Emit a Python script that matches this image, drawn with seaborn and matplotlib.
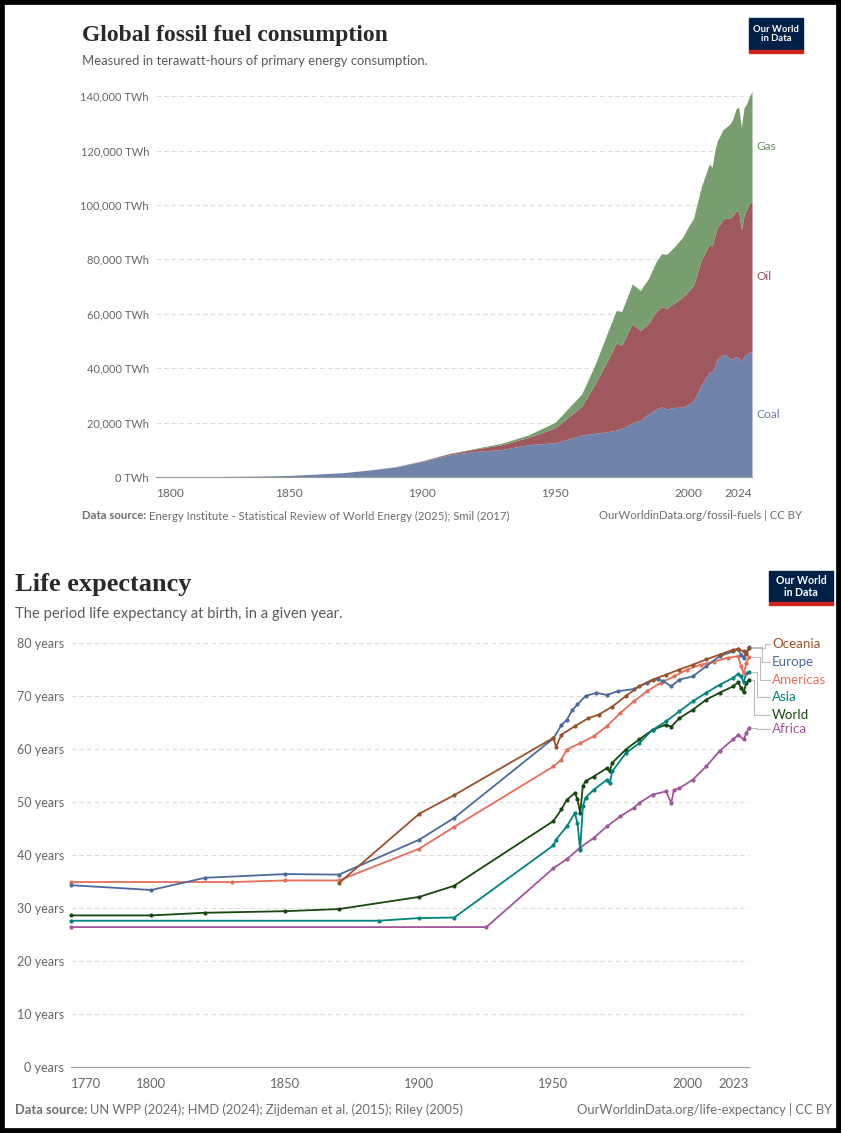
import numpy as np
import pandas as pd
import seaborn as sns
import matplotlib
matplotlib.use('Agg')
from matplotlib import pyplot as plt
from matplotlib.patches import Rectangle
from matplotlib.ticker import FuncFormatter

sns.set_theme(style="white")
plt.rcParams['font.family'] = ['Lato', 'DejaVu Sans']

# ---- fossil fuel consumption, TWh ----
fuel_years = [1800, 1810, 1820, 1830, 1840, 1850, 1860, 1870, 1880, 1890, 1900, 1910, 1920, 1930, 1940, 1950,
              1960, 1965, 1970, 1973, 1975, 1979, 1980, 1982, 1985, 1988,
              1990, 1992, 1995, 1998, 2000, 2002, 2005, 2008, 2009, 2010,
              2011, 2012, 2013, 2014, 2015, 2016, 2017, 2018, 2019, 2020, 2021, 2022, 2023, 2024]
coal = [97, 128, 153, 264, 356, 569, 1058, 1570, 2539, 3642, 5728, 8100, 9400, 10100, 11900, 12600,
        15400, 16100, 16700, 17300, 17800, 19800, 20300, 20800, 23100, 25000,
        25800, 25000, 25600, 25700, 26700, 28000, 34000, 38600, 38500, 40800,
        43500, 44000, 45000, 45100, 44200, 43300, 43600, 44200, 43900, 42300, 44600, 45100, 45800, 46000]
oil = [0, 0, 0, 0, 0, 0, 0, 0, 30, 90, 180, 380, 900, 1800, 2700, 5400,
       10600, 18100, 26700, 32000, 30600, 36600, 35300, 33000, 33300, 35800,
       36800, 37000, 38500, 40500, 41500, 42400, 46000, 47000, 46400, 47800,
       48300, 48900, 49600, 50000, 51000, 52000, 52800, 53500, 53800, 48600, 51500, 53400, 54800, 55300]
gas = [0, 0, 0, 0, 0, 0, 0, 0, 0, 60, 60, 140, 230, 550, 880, 2100,
       4500, 7100, 10500, 12000, 12400, 14500, 14600, 14800, 16400, 18400,
       19500, 19900, 20700, 22000, 23700, 24600, 26800, 29600, 28900, 31200,
       31900, 32600, 33000, 33300, 34000, 34800, 35800, 37600, 38300, 37700, 39600, 38800, 39200, 40500]
fuel_names = ["Coal", "Oil", "Gas"]
fuel_colors = ["#7084ab", "#a0585f", "#789d6e"]
fuel_text_colors = ["#6a7eaa", "#9a4a55", "#6c9061"]

# ---- life expectancy, years ----
oceania_years = [1870, 1900, 1913, 1950, 1951, 1953, 1958, 1963, 1967, 1972, 1977, 1982, 1987, 1992, 1997,
                 2002, 2007, 2012, 2017, 2019, 2021, 2022, 2023]
oceania = [34.7, 47.8, 51.3, 62.1, 60.4, 62.7, 64.3, 65.8, 66.5, 68.0, 70.0, 71.8, 73.1, 74.0, 75.0,
           75.9, 76.9, 77.8, 78.7, 78.9, 78.4, 77.9, 79.0]
europe_years = [1770, 1800, 1820, 1850, 1870, 1900, 1913, 1950, 1953, 1955, 1957, 1959, 1962, 1966, 1970,
                1974, 1980, 1985, 1989, 1991, 1994, 1997, 2002, 2007, 2012, 2017, 2019, 2020, 2021, 2022, 2023]
europe = [34.3, 33.4, 35.7, 36.4, 36.3, 42.9, 47.0, 62.0, 64.5, 65.5, 67.3, 68.4, 70.0, 70.6, 70.2,
          70.9, 71.3, 72.5, 73.2, 72.8, 71.8, 73.1, 73.7, 75.6, 77.5, 78.4, 78.9, 77.8, 77.2, 78.2, 79.2]
americas_years = [1770, 1830, 1850, 1870, 1900, 1913, 1950, 1953, 1955, 1960, 1965, 1970, 1975, 1980, 1985,
                  1990, 1995, 2000, 2005, 2010, 2015, 2019, 2020, 2021, 2022, 2023]
americas = [34.9, 34.9, 35.2, 35.2, 41.2, 45.3, 56.7, 58.0, 59.9, 61.1, 62.4, 64.3, 66.8, 69.0, 70.9,
            72.5, 73.7, 75.0, 75.9, 76.5, 77.2, 77.5, 75.6, 74.3, 76.2, 77.4]
asia_years = [1770, 1885, 1900, 1913, 1950, 1951, 1955, 1958, 1959, 1960, 1961, 1962, 1965, 1970, 1971,
              1972, 1977, 1982, 1987, 1992, 1997, 2002, 2007, 2012, 2017, 2019, 2020, 2021, 2022, 2023]
asia = [27.6, 27.6, 28.1, 28.2, 41.8, 42.9, 45.4, 47.9, 46.0, 41.0, 49.2, 50.8, 52.3, 54.2, 53.5,
        55.8, 59.2, 61.1, 63.6, 65.2, 67.1, 69.0, 70.6, 72.1, 73.4, 74.2, 73.7, 72.6, 74.3, 74.5]
world_years = [1770, 1800, 1820, 1850, 1870, 1900, 1913, 1950, 1953, 1955, 1958, 1959, 1960, 1961, 1962,
               1965, 1970, 1971, 1972, 1977, 1982, 1987, 1992, 1994, 1997, 2002, 2007, 2012, 2017, 2019,
               2020, 2021, 2022, 2023]
world = [28.6, 28.6, 29.1, 29.4, 29.8, 32.1, 34.2, 46.4, 48.6, 50.4, 51.7, 50.5, 47.9, 53.0, 53.9,
         54.8, 56.4, 55.8, 57.4, 59.9, 61.8, 63.6, 64.6, 64.2, 65.8, 67.4, 69.3, 70.6, 71.8, 72.6,
         71.5, 70.7, 72.5, 73.1]
africa_years = [1770, 1925, 1950, 1955, 1960, 1965, 1970, 1975, 1980, 1982, 1987, 1992, 1994, 1995, 1997,
                2002, 2007, 2012, 2017, 2019, 2021, 2022, 2023]
africa = [26.4, 26.4, 37.5, 39.2, 41.4, 43.2, 45.4, 47.3, 48.9, 49.8, 51.4, 52.0, 49.8, 52.3, 52.6,
          54.2, 56.7, 59.6, 61.8, 62.7, 61.8, 63.0, 64.0]

regions = ["Africa", "World", "Asia", "Americas", "Europe", "Oceania"]
region_colors = {"Oceania": "#9a5129", "Europe": "#4c6a9c", "Americas": "#e56e5a",
                 "Asia": "#00847e", "World": "#18470f", "Africa": "#a2559c"}

life = pd.concat([
    pd.DataFrame({"region": "Oceania", "year": oceania_years, "life_exp": oceania}),
    pd.DataFrame({"region": "Europe", "year": europe_years, "life_exp": europe}),
    pd.DataFrame({"region": "Americas", "year": americas_years, "life_exp": americas}),
    pd.DataFrame({"region": "Asia", "year": asia_years, "life_exp": asia}),
    pd.DataFrame({"region": "World", "year": world_years, "life_exp": world}),
    pd.DataFrame({"region": "Africa", "year": africa_years, "life_exp": africa}),
], ignore_index=True)

W, H = 841, 1133
fig = plt.figure(figsize=(W / 100, H / 100), dpi=100)
fig.patch.set_facecolor("white")


def fx(px):
    return px / W


def fy(py):
    return 1 - py / H


grey_txt = "#5b5b5b"
tick_col = "#666666"
grid_col = "#dcdcdc"


def owid_logo(x0, y0, x1, y1, size):
    fig.patches.append(Rectangle((fx(x0), fy(y1)), fx(x1) - fx(x0), (y1 - y0) / H,
                                 transform=fig.transFigure, color="#002147", zorder=5))
    fig.patches.append(Rectangle((fx(x0), fy(y1 + 3)), fx(x1) - fx(x0), 3 / H,
                                 transform=fig.transFigure, color="#ce261e", zorder=5))
    fig.text(fx((x0 + x1) / 2), fy((y0 + y1) / 2), "Our World\nin Data", color="white",
             fontsize=size, ha="center", va="center", fontweight="bold", linespacing=1.0, zorder=6)


def source_line(x, y, src, url, url_right, size):
    r = fig.canvas.get_renderer()
    t = fig.text(fx(x), fy(y), "Data source:", fontsize=size, fontweight="bold", color="#6e6e6e", va="center")
    bb = t.get_window_extent(renderer=r)
    fig.text(bb.x1 / W + 3 / W, fy(y), src, fontsize=size, color="#6e6e6e", va="center")
    fig.text(fx(url_right), fy(y), url, fontsize=size, color="#6e6e6e", va="center", ha="right")


def edge_labels(ax):
    labs = ax.get_xticklabels()
    labs[0].set_ha("left")
    labs[-1].set_ha("right")


# ================= top: fossil fuels =================
ax1 = fig.add_axes([fx(156), fy(477), fx(752) - fx(156), (477 - 89.4) / H])
ax1.stackplot(fuel_years, coal, oil, gas, colors=fuel_colors, linewidth=0, zorder=2)
ax1.set_xlim(1800, 2024)
ax1.set_ylim(0, 142500)
ax1.set_yticks(np.arange(0, 140001, 20000))
ax1.yaxis.set_major_formatter(FuncFormatter(lambda v, p: f"{int(v):,} TWh"))
ax1.set_xticks([1800, 1850, 1900, 1950, 2000, 2024])
ax1.grid(axis="y", color=grid_col, linestyle=(0, (4, 3)), linewidth=0.8, zorder=0)
ax1.grid(axis="x", visible=False)
for s in ["top", "right", "left"]:
    ax1.spines[s].set_visible(False)
ax1.spines["bottom"].set_color("#999999")
ax1.spines["bottom"].set_linewidth(0.8)
ax1.tick_params(axis="y", length=0, pad=5, labelsize=8.0, labelcolor=tick_col)
ax1.tick_params(axis="x", length=4, width=0.8, color="#999999", pad=4, labelsize=8.6, labelcolor=tick_col)
ax1.set_xlabel("")
ax1.set_ylabel("")
edge_labels(ax1)

bottom = 0
for name, vals, col in zip(fuel_names, [coal, oil, gas], fuel_text_colors):
    mid = bottom + vals[-1] / 2
    ax1.text(2025.8, mid, name, color=col, fontsize=8.6, va="center", ha="left", clip_on=False)
    bottom += vals[-1]

fig.text(fx(82), fy(36), "Global fossil fuel consumption", fontsize=17, family=["Liberation Serif", "DejaVu Serif"],
         color="#2a2a2a", va="center", fontweight="bold")
fig.text(fx(82), fy(61), "Measured in terawatt-hours of primary energy consumption.", fontsize=9.4,
         color=grey_txt, va="center")
owid_logo(749, 18, 803, 50, 6.8)
source_line(82, 516, "Energy Institute - Statistical Review of World Energy (2025); Smil (2017)",
            "OurWorldinData.org/fossil-fuels | CC BY", 802, 8.2)

# ================= bottom: life expectancy =================
ax2 = fig.add_axes([fx(71), fy(1067), fx(749) - fx(71), (1067 - 643) / H])
sns.lineplot(data=life, x="year", y="life_exp", hue="region", hue_order=regions, palette=region_colors,
             marker="o", markersize=3, markeredgewidth=0, linewidth=1.3, legend=False, sort=False,
             estimator=None, ax=ax2)
for ln in ax2.lines:
    ln.set_clip_on(False)
ax2.set_xlim(1770, 2023)
ax2.set_ylim(0, 80)
ax2.set_yticks(np.arange(0, 81, 10))
ax2.yaxis.set_major_formatter(FuncFormatter(lambda v, p: f"{int(v)} years"))
ax2.set_xticks([1770, 1800, 1850, 1900, 1950, 2000, 2023])
ax2.grid(axis="y", color=grid_col, linestyle=(0, (4, 3)), linewidth=0.8, zorder=0)
ax2.grid(axis="x", visible=False)
for s in ["top", "right", "left"]:
    ax2.spines[s].set_visible(False)
ax2.spines["bottom"].set_color("#999999")
ax2.spines["bottom"].set_linewidth(0.8)
ax2.tick_params(axis="y", length=0, pad=5, labelsize=9, labelcolor=tick_col)
ax2.tick_params(axis="x", length=4, width=0.8, color="#999999", pad=4, labelsize=9.4, labelcolor=tick_col)
ax2.set_xlabel("")
ax2.set_ylabel("")
edge_labels(ax2)

# right-hand labels with leader lines
label_y = {"Oceania": 79.9, "Europe": 76.5, "Americas": 73.1, "Asia": 69.9, "World": 66.5, "Africa": 63.8}
elbow_x = {"Oceania": 2029.0, "Europe": 2028.0, "Americas": 2027.0, "Asia": 2026.0, "World": 2025.0,
           "Africa": 2026.0}
for reg in ["Oceania", "Europe", "Americas", "Asia", "World", "Africa"]:
    end_v = life.loc[life["region"] == reg, "life_exp"].iloc[-1]
    ex = elbow_x[reg]
    ax2.plot([2024.0, ex, ex, 2030.8], [end_v, end_v, label_y[reg], label_y[reg]],
             color="#bdbdbd", linewidth=0.8, clip_on=False)
    ax2.text(2031.6, label_y[reg], reg, color=region_colors[reg], fontsize=9.6, va="center", ha="left",
             clip_on=False)

fig.text(fx(15), fy(585), "Life expectancy", fontsize=19, family=["Liberation Serif", "DejaVu Serif"],
         color="#2a2a2a", va="center", fontweight="bold")
fig.text(fx(15), fy(614), "The period life expectancy at birth, in a given year.", fontsize=10.6,
         color=grey_txt, va="center")
owid_logo(769, 571, 833, 602, 7.6)
source_line(15, 1110, "UN WPP (2024); HMD (2024); Zijdeman et al. (2015); Riley (2005)",
            "OurWorldinData.org/life-expectancy | CC BY", 832, 9.3)

# black frame around the whole picture
fig.patches.append(Rectangle((0, 0), 1, 1, transform=fig.transFigure, fill=False,
                             edgecolor="black", linewidth=7, zorder=10))

fig.savefig("out.png", dpi=100, facecolor="white")
